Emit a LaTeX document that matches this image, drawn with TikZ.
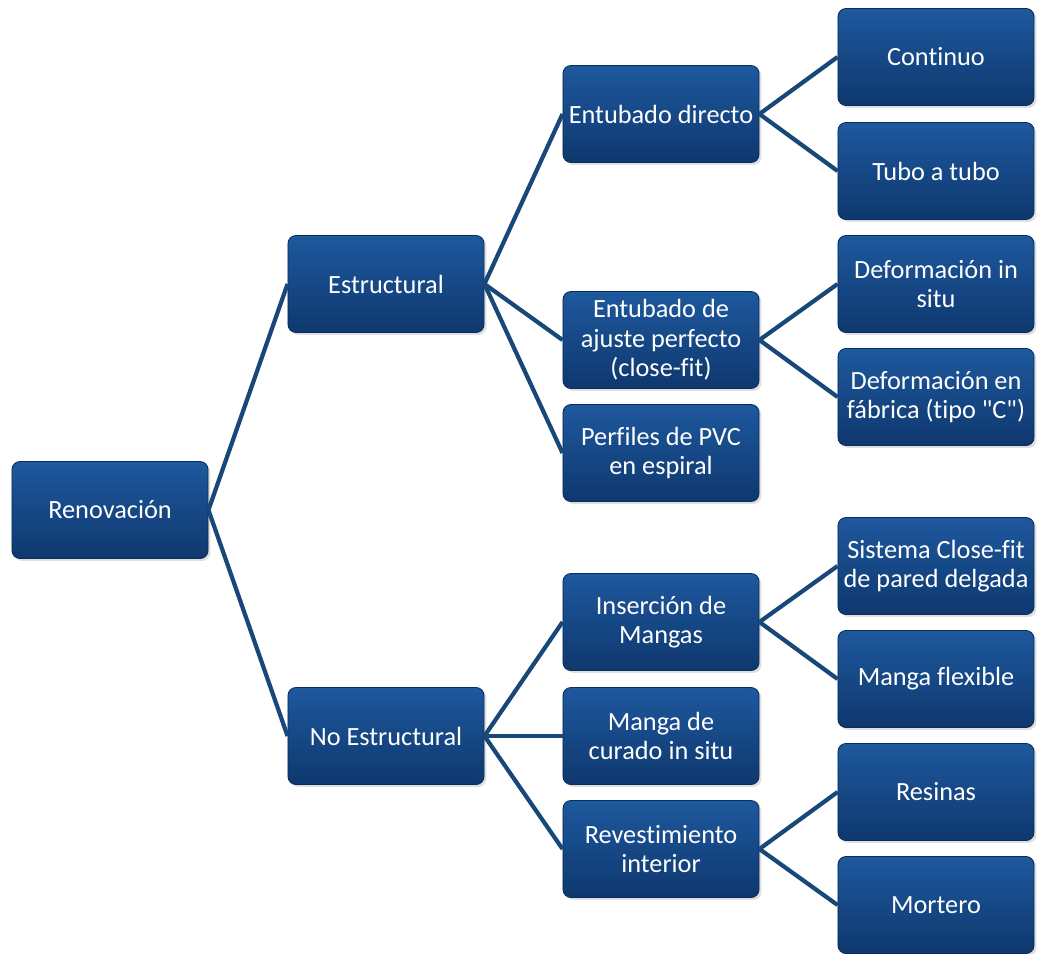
\documentclass[tikz,border=0pt]{standalone}
\usepackage{fontspec}
\setmainfont{Carlito}[Ligatures={TeXOff,NoCommon}]
\usepackage{tikz}
\usepackage{xcolor}
\usetikzlibrary{positioning, shadows}

\definecolor{boxtop}{RGB}{30,88,158}
\definecolor{boxmid}{RGB}{22,74,138}
\definecolor{boxbot}{RGB}{14,56,110}
\definecolor{boxedge}{RGB}{10,45,92}
\definecolor{linkblue}{RGB}{24,72,122}

\tikzset{
  box/.style={rounded corners=0.2cm, draw=boxedge, line width=0.6pt,
    top color=boxtop, middle color=boxmid, bottom color=boxbot,
    minimum width=4.9cm, minimum height=2.425cm, inner sep=1pt,
    align=center, text=white, font=\fontsize{18.7}{21}\selectfont,
    drop shadow={opacity=0.25, shadow xshift=0.6mm, shadow yshift=-0.6mm}},
  link/.style={draw=linkblue, line width=3pt}
}

\begin{document}
\begin{tikzpicture}[x=0.025cm, y=-0.025cm]
\useasboundingbox (0,0) rectangle (1044,953);

% first levels
\node[box] (reno) at (110,510) {Renovación};
\node[box] (estr) at (386,284) {Estructural};
\node[box] (noest) at (386,736) {No Estructural};

% second level
\node[box] (directo) at (661,114) {Entubado directo};
\node[box] (ajuste) at (661,340) {Entubado de\\ajuste perfecto\\(close-fit)};
\node[box] (perfiles) at (661,453) {Perfiles de PVC\\en espiral};
\node[box] (insercion) at (661,622) {Inserción de\\Mangas};
\node[box] (curado) at (661,736) {Manga de\\curado in situ};
\node[box] (revest) at (661,849) {Revestimiento\\interior};

% third level
\node[box] (continuo) at (936,57) {Continuo};
\node[box] (tubo) at (936,171) {Tubo a tubo};
\node[box] (insitu) at (936,284) {Deformación in\\situ};
\node[box] (fabrica) at (936,397) {Deformación en\\fábrica (tipo "C")};
\node[box] (sistema) at (936,566) {Sistema Close-fit\\de pared delgada};
\node[box] (flexible) at (936,679) {Manga flexible};
\node[box] (resinas) at (936,792) {Resinas};
\node[box] (mortero) at (936,905) {Mortero};

% connectors
\foreach \a/\b in {reno/estr, reno/noest,
    estr/directo, estr/ajuste, estr/perfiles,
    noest/insercion, noest/curado, noest/revest,
    directo/continuo, directo/tubo, ajuste/insitu, ajuste/fabrica,
    insercion/sistema, insercion/flexible, revest/resinas, revest/mortero} {
    \draw[link] (\a.east) -- (\b.west);
}
\end{tikzpicture}
\end{document}
